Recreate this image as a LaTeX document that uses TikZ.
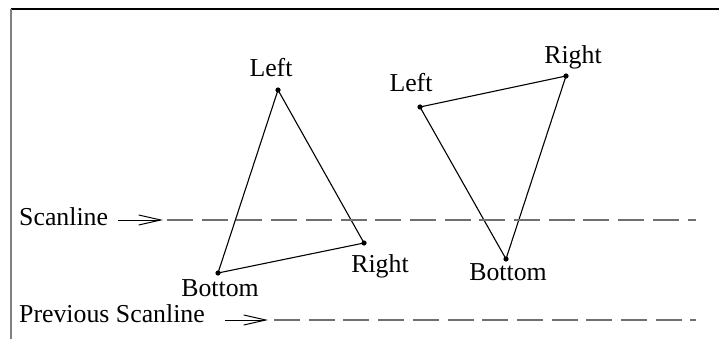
\documentclass[tikz,border=0pt]{standalone}
\usepackage{fontspec}
\setmainfont{Liberation Serif}
\usetikzlibrary{arrows.meta}
\definecolor{scangray}{HTML}{707070}
\tikzset{
  lbl/.style={inner sep=0pt, anchor=base, font=\fontsize{25.8}{30}\selectfont},
  lbll/.style={inner sep=0pt, anchor=base west, font=\fontsize{25.8}{30}\selectfont},
  edge/.style={line width=1.1pt, black},
  vdot/.style={fill=black},
  scanl/.style={scangray, line width=1.6pt, dash pattern=on 26pt off 8.7pt},
  pointer/.style={line width=1pt, -{Straight Barb[length=22pt,width=10pt,line width=1pt]}},
}
\begin{document}
\begin{tikzpicture}[x=1pt,y=-1pt]
\useasboundingbox (0,0) rectangle (719,339);
% frame
\draw[line width=1.3pt, black] (11,9) -- (719,9);
\draw[line width=1.5pt, gray] (11,9) -- (11,339);

% triangle 1
\coordinate (L1) at (278,90);
\coordinate (R1) at (364,243);
\coordinate (B1) at (218,273);
\draw[edge] (L1) -- (R1) -- (B1) -- cycle;
\foreach \p in {L1,R1,B1} \fill[vdot] (\p) circle (2.6pt);
\node[lbl] (tL1) at (271,77) {Left};
\node[lbl] (tR1) at (380,272) {Right};
\node[lbl] (tB1) at (220,296) {Bottom};

% triangle 2
\coordinate (L2) at (420,107);
\coordinate (R2) at (566,76);
\coordinate (B2) at (506,259);
\draw[edge] (L2) -- (R2) -- (B2) -- cycle;
\foreach \p in {L2,R2,B2} \fill[vdot] (\p) circle (2.6pt);
\node[lbl] (tL2) at (411,92) {Left};
\node[lbl] (tR2) at (573,64) {Right};
\node[lbl] (tB2) at (508,280) {Bottom};

% scanline
\node[lbll] (sc) at (19,225) {Scanline};
\coordinate (scA) at (118,220);
\coordinate (scT) at (163,220);
\coordinate (scS) at (167,220);
\coordinate (scE) at (696,220);
\draw[pointer] (scA) -- (scT);
\draw[scanl] (scS) -- (scE);

% previous scanline
\node[lbll] (psc) at (19,322) {Previous Scanline};
\coordinate (pA) at (225,320);
\coordinate (pT) at (268,320);
\coordinate (pS) at (274,320);
\coordinate (pE) at (696,320);
\draw[pointer] (pA) -- (pT);
\draw[scanl] (pS) -- (pE);
\end{tikzpicture}
\end{document}
